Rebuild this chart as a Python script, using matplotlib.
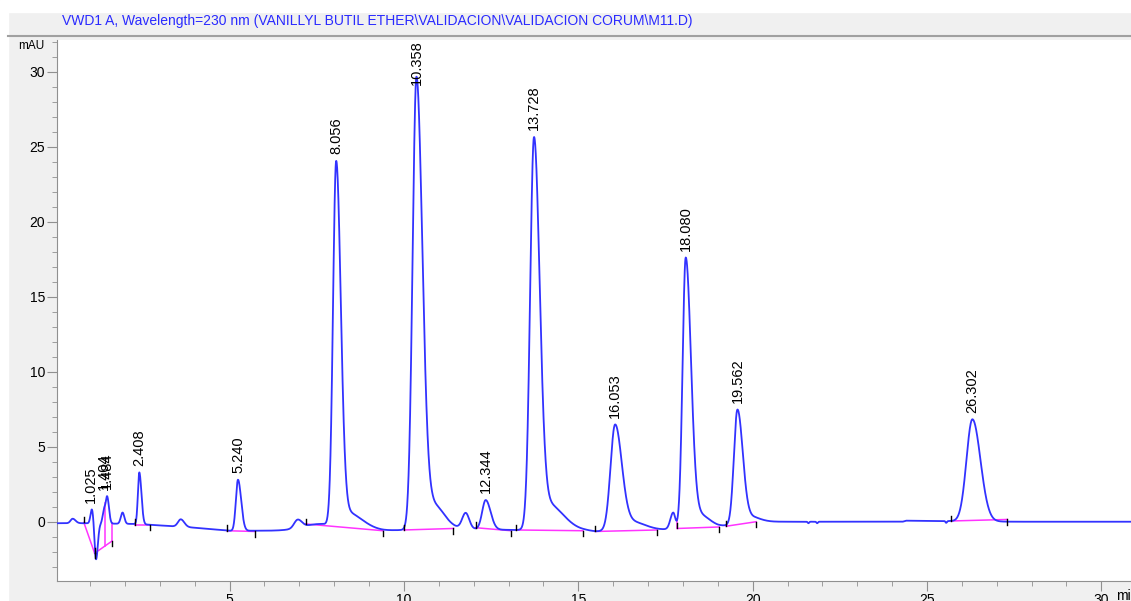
import numpy as np
import matplotlib.pyplot as plt
from matplotlib.patches import Rectangle
from matplotlib.ticker import MultipleLocator

plt.rcParams['font.family'] = ['Liberation Sans', 'DejaVu Sans']

title = "VWD1 A, Wavelength=230 nm (VANILLYL BUTIL ETHER\\VALIDACION\\VALIDACION CORUM\\M11.D)"

# peak table: time (min), height above drift (mAU), left/right sigma (min)
peak_rt = [0.50, 1.05, 1.17, 1.40, 1.49, 1.93, 2.41, 3.60, 5.24, 6.95, 7.60,
           8.056, 8.35, 10.358, 10.85, 11.77, 12.344, 13.728, 14.10,
           16.053, 16.50, 17.72, 18.080, 18.45, 19.562, 19.85, 21.60, 21.85, 25.55, 26.302]
peak_h = [0.30, 0.95, -2.40, 0.90, 1.75, 0.75, 3.45, 0.50, 3.40, 0.55, 0.45,
          24.0, 1.2, 30.1, 1.6, 1.05, 1.95, 25.6, 1.8,
          6.9, 0.6, 1.1, 17.9, 0.9, 7.5, 0.4, -0.1, -0.1, -0.12, 6.8]
peak_sl = [0.06, 0.04, 0.04, 0.04, 0.04, 0.05, 0.04, 0.08, 0.06, 0.10, 0.50,
           0.09, 0.20, 0.11, 0.20, 0.10, 0.10, 0.11, 0.25,
           0.13, 0.30, 0.08, 0.09, 0.20, 0.10, 0.20, 0.02, 0.02, 0.02, 0.17]
peak_sr = [0.08, 0.04, 0.05, 0.04, 0.05, 0.05, 0.06, 0.10, 0.09, 0.12, 0.40,
           0.13, 0.45, 0.17, 0.30, 0.10, 0.14, 0.16, 0.45,
           0.19, 0.40, 0.06, 0.15, 0.30, 0.15, 0.30, 0.02, 0.02, 0.02, 0.23]

# slow drift of the detector signal
drift_t = [0.0, 0.8, 2.3, 2.7, 4.0, 5.0, 6.5, 9.4, 10.0, 11.4, 13.1, 15.2, 15.5, 17.3, 19.0, 20.1, 24.3, 24.4, 27.5, 31.0]
drift_y = [-0.1, -0.1, -0.15, -0.2, -0.4, -0.6, -0.6, -0.6, -0.55, -0.45, -0.55, -0.6, -0.65, -0.55, -0.35, 0.0, 0.0, 0.07, 0.0, 0.0]

# labelled peaks
label_rt = [1.025, 1.404, 1.484, 2.408, 5.240, 8.056, 10.358, 12.344, 13.728, 16.053, 18.080, 19.562, 26.302]

# integration baselines: start time, start value, end time, end value
base_t0 = [0.82, 1.13, 2.30, 4.92, 7.18, 10.00, 12.06, 13.20, 15.48, 17.84, 19.24, 25.70]
base_y0 = [-0.05, -2.10, -0.20, -0.60, -0.15, -0.55, -0.40, -0.55, -0.65, -0.45, -0.30, 0.05]
base_t1 = [1.13, 1.62, 2.72, 5.73, 9.40, 11.42, 13.07, 15.13, 17.26, 19.04, 20.10, 27.30]
base_y1 = [-2.10, -1.30, -0.20, -0.65, -0.60, -0.45, -0.60, -0.60, -0.55, -0.35, 0.00, 0.15]
drop_t = [1.44, 1.62, 17.84]

t = np.arange(0.0, 31.0, 0.004)
sig = np.interp(t, drift_t, drift_y)
for rt, h, sl, sr in zip(peak_rt, peak_h, peak_sl, peak_sr):
    s = np.where(t < rt, sl, sr)
    sig += h * np.exp(-0.5 * ((t - rt) / s) ** 2)

fig = plt.figure(figsize=(11.31, 6.01), dpi=100)
fig.patch.set_facecolor('#f0f0f0')
W, H = 1131, 601
fig.patches.append(Rectangle((0, 1 - 12 / H), 1, 12 / H, transform=fig.transFigure, color='white', zorder=0))
fig.patches.append(Rectangle((0, 0), 8 / W, 1, transform=fig.transFigure, color='white', zorder=0))
fig.add_artist(plt.Line2D([8 / W, 1], [1 - 36 / H, 1 - 36 / H], transform=fig.transFigure, color='#a0a0a0', lw=1.5))
fig.text(62 / W, 1 - 21 / H, title, color='#2a2aff', fontsize=10, va='center')
fig.text(18 / W, 1 - 46 / H, 'mAU', fontsize=8.5, va='center')
fig.text(1116 / W, 1 - 596 / H, 'min', fontsize=10, va='center')

ax = fig.add_axes([57 / W, 20 / H, 1 - 57 / W, (581 - 40) / H])
ax.set_xlim(0.05, 30.85)
ax.set_ylim(-3.95, 32.1)
ax.plot(t, sig, color='#3232ff', lw=1.3, zorder=3)

for x0, y0, x1, y1 in zip(base_t0, base_y0, base_t1, base_y1):
    ax.plot([x0, x1], [y0, y1], color='#ff33ff', lw=1.1, zorder=2)
    ax.plot([x0, x0], [y0, y0 + 0.35], color='black', lw=1, zorder=4)
    ax.plot([x1, x1], [y1 - 0.35, y1], color='black', lw=1, zorder=4)
for dt in drop_t:
    for x0, y0, x1, y1 in zip(base_t0, base_y0, base_t1, base_y1):
        if x0 <= dt <= x1:
            yb = y0 + (y1 - y0) * (dt - x0) / (x1 - x0)
    ax.plot([dt, dt], [yb, np.interp(dt, t, sig)], color='#ff33ff', lw=1.1, zorder=2)

for rt in label_rt:
    m = np.abs(t - rt) < 0.08
    apex = sig[m].max()
    if apex > 28:
        ax.text(rt, 32.1, f"{rt:.3f}", rotation=90, ha='center', va='top', fontsize=10.5, zorder=5)
    else:
        ax.text(rt, apex + 0.45, f"{rt:.3f}", rotation=90, ha='center', va='bottom', fontsize=10.5, zorder=5)

ax.xaxis.set_major_locator(MultipleLocator(5))
ax.xaxis.set_minor_locator(MultipleLocator(1))
ax.yaxis.set_major_locator(MultipleLocator(5))
ax.yaxis.set_minor_locator(MultipleLocator(1))
ax.tick_params(which='major', length=7, color='#909090', labelsize=10, pad=1.5)
ax.tick_params(which='minor', length=3.5, color='#909090')
for side in ['top', 'right']:
    ax.spines[side].set_visible(False)
for side in ['left', 'bottom']:
    ax.spines[side].set_color('#909090')
ax.set_xticks([5, 10, 15, 20, 25, 30])
ax.set_yticks([0, 5, 10, 15, 20, 25, 30])

fig.savefig('out.png', dpi=100, facecolor=fig.get_facecolor())
